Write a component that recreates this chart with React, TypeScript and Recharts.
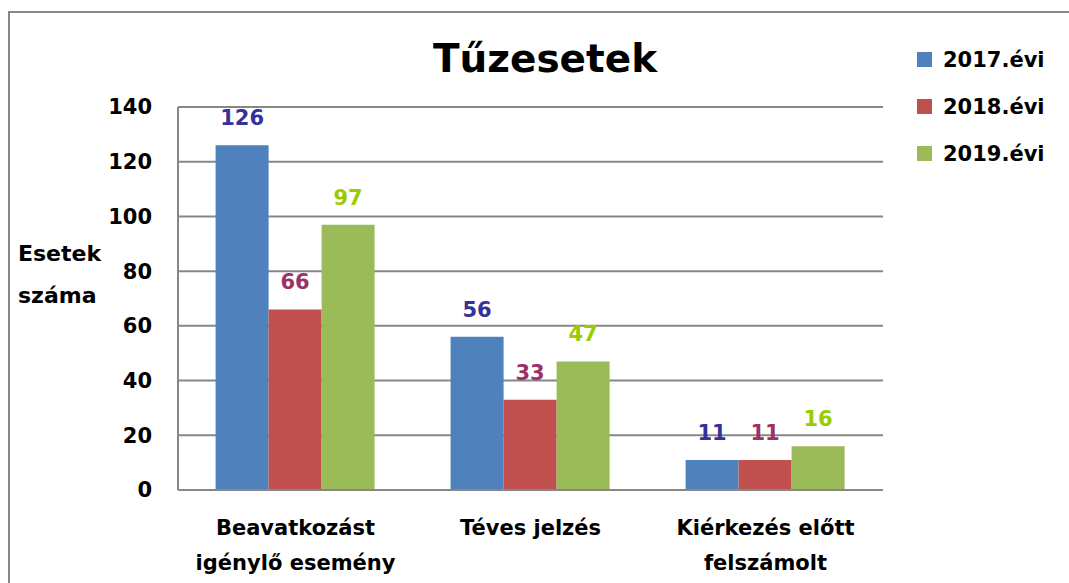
import { Bar, BarChart, CartesianGrid, LabelList, XAxis, YAxis } from 'recharts';

const categories = ['Beavatkozást igénylő esemény', 'Téves jelzés', 'Kiérkezés előtt felszámolt'];
const categoryLines = [['Beavatkozást', 'igénylő esemény'], ['Téves jelzés'], ['Kiérkezés előtt', 'felszámolt']];
const values2017 = [126, 56, 11];
const values2018 = [66, 33, 11];
const values2019 = [97, 47, 16];
const yTicks = [0, 20, 40, 60, 80, 100, 120, 140];

const series = [
  { key: 'y2017', name: '2017.évi', fill: '#4F81BD', labelColor: '#333399' },
  { key: 'y2018', name: '2018.évi', fill: '#C0504D', labelColor: '#993366' },
  { key: 'y2019', name: '2019.évi', fill: '#9BBB59', labelColor: '#99CC00' },
];

const data = categories.map((name, i) => ({
  name,
  y2017: values2017[i],
  y2018: values2018[i],
  y2019: values2019[i],
}));

const FONT = '"DejaVu Sans", sans-serif';

function CategoryTick(props: any) {
  const { x, y, index } = props;
  const lines = categoryLines[index] || [];
  return (
    <text x={x} y={y} textAnchor="middle" fontFamily={FONT} fontWeight="bold" fontSize={21} fill="#000">
      {lines.map((l, i) => (
        <tspan key={i} x={x} dy={i === 0 ? 37 : 35}>
          {l}
        </tspan>
      ))}
    </text>
  );
}

function LegendBox() {
  return (
    <div style={{ position: 'absolute', left: 917, top: 36, fontFamily: FONT, fontWeight: 'bold', fontSize: 21 }}>
      {series.map((s) => (
        <div key={s.key} style={{ display: 'flex', alignItems: 'center', height: 47 }}>
          <span style={{ width: 15, height: 15, background: s.fill, marginRight: 11 }} />
          <span>{s.name}</span>
        </div>
      ))}
    </div>
  );
}

export default function App() {
  return (
    <div style={{ position: 'fixed', left: 0, top: 0, width: 1069, height: 583, overflow: 'hidden', background: '#fff' }}>
      <div
        style={{
          position: 'absolute',
          left: 8,
          top: 11,
          width: 1200,
          height: 700,
          border: '2px solid #878787',
        }}
      />
      <div
        style={{
          position: 'absolute',
          left: 0,
          width: 1069,
          top: 36,
          textAlign: 'center',
          paddingLeft: 21,
          fontFamily: FONT,
          fontWeight: 'bold',
          fontSize: 39,
          boxSizing: 'border-box',
        }}
      >
        Tűzesetek
      </div>
      <div
        style={{
          position: 'absolute',
          left: 18,
          top: 233,
          fontFamily: FONT,
          fontWeight: 'bold',
          fontSize: 22,
          lineHeight: '42px',
        }}
      >
        Esetek
        <br />
        száma
      </div>
      <LegendBox />
      <div style={{ position: 'absolute', left: 0, top: 0 }}>
        <BarChart
          width={1069}
          height={583}
          data={data}
          margin={{ top: 107, right: 186, bottom: 0, left: 0 }}
          barCategoryGap="16%"
          barGap={0}
        >
          <CartesianGrid vertical={false} stroke="#878787" strokeWidth={2} />
          <XAxis
            dataKey="name"
            height={93}
            tick={<CategoryTick />}
            tickLine={false}
            axisLine={{ stroke: '#878787', strokeWidth: 2 }}
            interval={0}
          />
          <YAxis
            width={178}
            domain={[0, 140]}
            ticks={yTicks}
            tickLine={false}
            tickMargin={20}
            axisLine={{ stroke: '#878787', strokeWidth: 2 }}
            tick={{ fontFamily: FONT, fontWeight: 'bold', fontSize: 21, fill: '#000' }}
          />
          {series.map((s) => (
            <Bar key={s.key} dataKey={s.key} name={s.name} fill={s.fill} isAnimationActive={false}>
              <LabelList
                dataKey={s.key}
                position="top"
                offset={20}
                fill={s.labelColor}
                fontFamily={FONT}
                fontWeight="bold"
                fontSize={21}
              />
            </Bar>
          ))}
        </BarChart>
      </div>
    </div>
  );
}
